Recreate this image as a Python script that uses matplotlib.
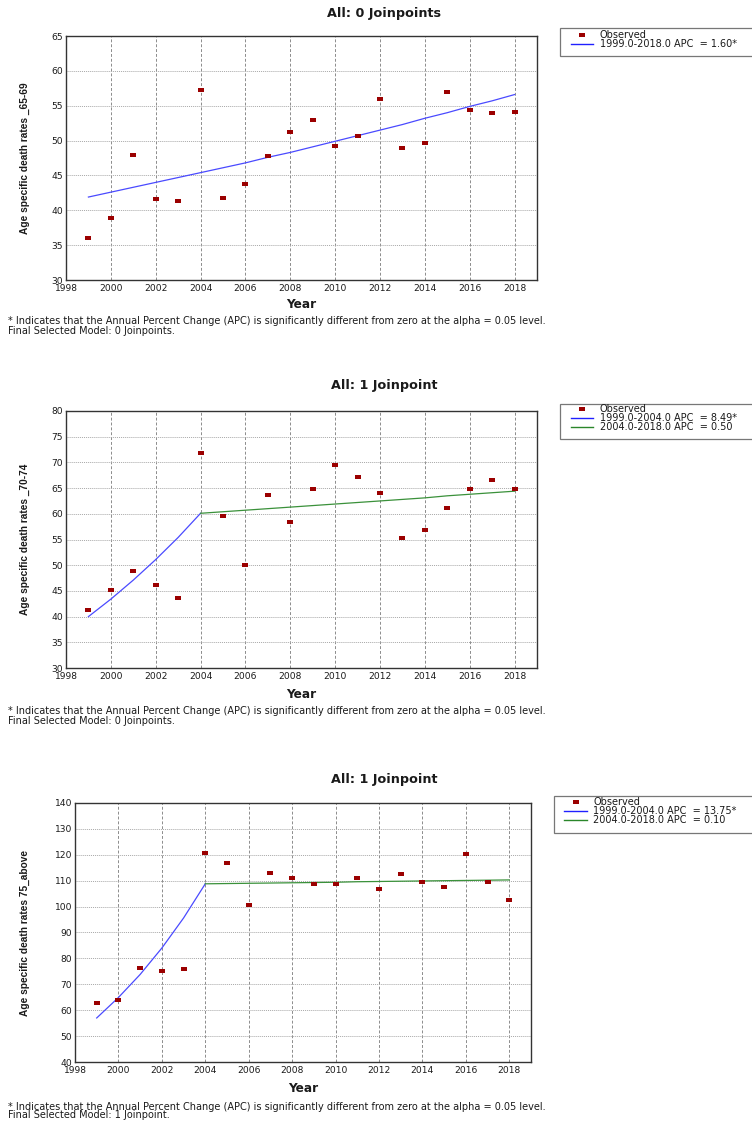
import matplotlib
matplotlib.use("Agg")
import matplotlib.pyplot as plt
from matplotlib.path import Path
from matplotlib.lines import Line2D
from matplotlib.patches import Rectangle

# ---------------- data ----------------
years = list(range(1999, 2019))
seg1_years = list(range(1999, 2005))
seg2_years = list(range(2004, 2019))

rates_65_69 = [36.0, 38.9, 48.0, 41.6, 41.3, 57.2, 41.8, 43.7, 47.8, 51.3,
               52.9, 49.2, 50.6, 56.0, 49.0, 49.7, 57.0, 54.4, 53.9, 54.1]
fit_65_69 = [41.9, 42.6, 43.3, 44.0, 44.7, 45.4, 46.1, 46.8, 47.6, 48.3,
             49.1, 49.9, 50.7, 51.5, 52.3, 53.2, 54.0, 54.9, 55.7, 56.6]

rates_70_74 = [41.2, 45.1, 48.8, 46.2, 43.7, 71.8, 59.6, 50.0, 63.7, 58.5,
               64.8, 69.4, 67.1, 64.0, 55.2, 56.9, 61.2, 64.8, 66.6, 64.9]
fit_70_74_seg1 = [40.0, 43.4, 47.1, 51.1, 55.4, 60.1]
fit_70_74_seg2 = [60.1, 60.4, 60.7, 61.0, 61.3, 61.6, 61.9, 62.2, 62.5, 62.8,
                  63.1, 63.5, 63.8, 64.1, 64.4]

rates_75_above = [62.7, 64.1, 76.4, 75.2, 75.8, 120.7, 116.8, 100.7, 113.1, 110.9,
                  108.6, 108.6, 110.9, 106.8, 112.7, 109.6, 107.5, 120.2, 109.6, 102.6]
fit_75_seg1 = [57.0, 64.9, 73.8, 84.0, 95.6, 108.8]
fit_75_seg2 = [108.8, 108.9, 109.0, 109.1, 109.2, 109.3, 109.4, 109.6, 109.7, 109.8,
               109.9, 110.0, 110.1, 110.2, 110.3]

titles = ["All: 0 Joinpoints", "All: 1 Joinpoint", "All: 1 Joinpoint"]
ylabels = ["Age specific death rates _65-69", "Age specific death rates _70-74",
           "Age specific death rates 75_above"]
legend_labels = [
    ["Observed", "1999.0-2018.0 APC  = 1.60*"],
    ["Observed", "1999.0-2004.0 APC  = 8.49*", "2004.0-2018.0 APC  = 0.50"],
    ["Observed", "1999.0-2004.0 APC  = 13.75*", "2004.0-2018.0 APC  = 0.10"],
]
footnote_1 = ("* Indicates that the Annual Percent Change (APC) is significantly "
              "different from zero at the alpha = 0.05 level.")
footnotes_2 = ["Final Selected Model: 0 Joinpoints.", "Final Selected Model: 0 Joinpoints.",
               "Final Selected Model: 1 Joinpoint."]
xticks = list(range(1998, 2019, 2))
yticks = [list(range(30, 66, 5)), list(range(30, 81, 5)), list(range(40, 141, 10))]
ylims = [(30, 65), (30, 80), (40, 140)]

# ---------------- style ----------------
W, H = 752, 1121
MARKER_C = "#9b0000"
BLUE = "#4a4aff"
GREEN = "#3a913a"
TXT = "#1a1a1a"
rect_marker = Path([(-1, -0.55), (1, -0.55), (1, 0.55), (-1, 0.55), (-1, -0.55)],
                   [Path.MOVETO, Path.LINETO, Path.LINETO, Path.LINETO, Path.CLOSEPOLY])

fig = plt.figure(figsize=(W / 100, H / 100), dpi=100)
fig.patch.set_facecolor("white")


def fx(px):
    return px / W


def fy(py):
    return 1 - py / H


layouts = [
    dict(ax=(66, 537, 36, 280), title_y=13, year_y=305, foot_y=(321.5, 330.5),
         leg_box=(560, 28, 56), leg_rows=(35, 44), leg_hx=(571, 593), leg_tx=600),
    dict(ax=(66, 537, 411, 668), title_y=386, year_y=695, foot_y=(711.5, 720.5),
         leg_box=(560, 404, 439), leg_rows=(409, 418, 427), leg_hx=(571, 593), leg_tx=600),
    dict(ax=(75, 531, 803, 1062), title_y=779, year_y=1088, foot_y=(1106.5, 1115.5),
         leg_box=(554, 796, 833), leg_rows=(802, 811, 820), leg_hx=(564, 587), leg_tx=593),
]

observed = [rates_65_69, rates_70_74, rates_75_above]
fits = [
    [(years, fit_65_69, BLUE)],
    [(seg1_years, fit_70_74_seg1, BLUE), (seg2_years, fit_70_74_seg2, GREEN)],
    [(seg1_years, fit_75_seg1, BLUE), (seg2_years, fit_75_seg2, GREEN)],
]

for i in range(3):
    L = layouts[i]
    l, r, t, b = L["ax"]
    ax = fig.add_axes([fx(l), fy(b), (r - l) / W, (b - t) / H])
    ax.set_xlim(1998, 2019)
    ax.set_ylim(*ylims[i])
    ax.set_xticks(xticks)
    ax.set_yticks(yticks[i])
    ax.tick_params(length=0, labelsize=6.6, labelcolor=TXT, pad=3)
    ax.tick_params(axis="y", pad=2)
    for s in ax.spines.values():
        s.set_color("#333333")
        s.set_linewidth(1.0)
    ax.xaxis.grid(True, color="#8c8c8c", linestyle=(0, (3, 2)), linewidth=0.7)
    ax.yaxis.grid(True, color="#a8a8a8", linestyle=(0, (1, 1)), linewidth=0.7)
    ax.set_axisbelow(True)

    for xs, ys, c in fits[i]:
        ax.plot(xs, ys, color=c, linewidth=0.9, zorder=3)
    ax.plot(years, observed[i], linestyle="none", marker=rect_marker, markersize=4.8,
            color=MARKER_C, markeredgewidth=0, zorder=4)

    fig.text(fx(384), fy(L["title_y"]), titles[i], ha="center", va="center",
             fontsize=9.2, fontweight="bold", color=TXT)
    fig.text(fx((l + r) / 2), fy(L["year_y"]), "Year", ha="center", va="center",
             fontsize=8.7, fontweight="bold", color=TXT)
    fig.text(fx(25), fy((t + b) / 2), ylabels[i], rotation=90, ha="center", va="center",
             fontsize=7.3, fontweight="bold", color=TXT,
             family=["Liberation Sans", "DejaVu Sans"])
    fig.text(fx(8), fy(L["foot_y"][0]), footnote_1, ha="left", va="center",
             fontsize=7.0, color=TXT)
    fig.text(fx(8), fy(L["foot_y"][1]), footnotes_2[i], ha="left", va="center",
             fontsize=7.0, color=TXT)

    bl, bt, bb = L["leg_box"]
    fig.patches.append(Rectangle((fx(bl), fy(bb)), fx(W + 20 - bl), (bb - bt) / H,
                                 transform=fig.transFigure, facecolor="white",
                                 edgecolor="#777777", linewidth=0.9, figure=fig))
    hx0, hx1 = L["leg_hx"]
    rows = L["leg_rows"]
    fig.lines.append(Line2D([fx((hx0 + hx1) / 2)], [fy(rows[0])], transform=fig.transFigure,
                            linestyle="none", marker=rect_marker, markersize=4.8,
                            color=MARKER_C, markeredgewidth=0, figure=fig))
    line_colors = [c for _, _, c in fits[i]]
    for k, c in enumerate(line_colors):
        fig.lines.append(Line2D([fx(hx0), fx(hx1)], [fy(rows[k + 1])] * 2,
                                transform=fig.transFigure,
                                color="#2020ff" if c == BLUE else "#2a862a",
                                linewidth=1.0, figure=fig))
    for k, lab in enumerate(legend_labels[i]):
        fig.text(fx(L["leg_tx"]), fy(rows[k]), lab, ha="left", va="center",
                 fontsize=7.0, color=TXT)

fig.savefig("out.png", dpi=100, facecolor="white")
